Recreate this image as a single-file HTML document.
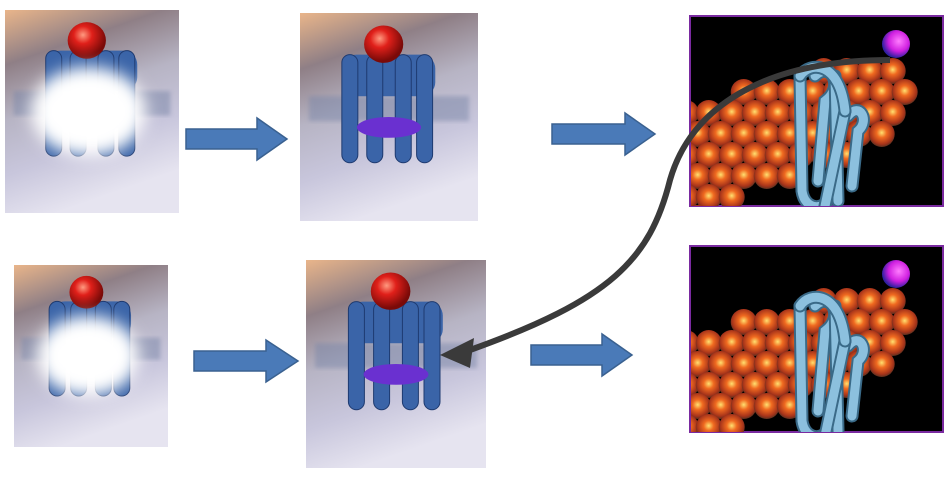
<!DOCTYPE html>
<html><head><meta charset="utf-8"><style>
html,body{margin:0;padding:0;background:#fff;}
body{width:946px;height:480px;overflow:hidden;}
</style></head><body>
<svg id="s" width="946" height="480" xmlns="http://www.w3.org/2000/svg">
<defs>
<linearGradient id="bg" x1="0" y1="0" x2="0.3" y2="1">
<stop offset="0" stop-color="#e9b58a"/><stop offset="0.25" stop-color="#8f7f86"/>
<stop offset="0.5" stop-color="#b7b4c4"/><stop offset="0.75" stop-color="#c8c6dc"/><stop offset="1" stop-color="#e6e4f0"/>
</linearGradient>
<radialGradient id="red" cx="0.4" cy="0.35" r="0.6"><stop offset="0" stop-color="#ff9a80"/><stop offset="0.4" stop-color="#e0201a"/><stop offset="1" stop-color="#7a0a08"/></radialGradient>
<radialGradient id="sph" cx="0.5" cy="0.45" r="0.55"><stop offset="0" stop-color="#ffe070"/><stop offset="0.35" stop-color="#f06a20"/><stop offset="0.8" stop-color="#a8341a"/><stop offset="1" stop-color="#5a3020"/></radialGradient>
<radialGradient id="mag" cx="0.6" cy="0.4" r="0.6"><stop offset="0" stop-color="#ff7cff"/><stop offset="0.6" stop-color="#d020e0"/><stop offset="1" stop-color="#3020a0"/></radialGradient>
<filter id="blur" x="-30%" y="-30%" width="160%" height="160%"><feGaussianBlur stdDeviation="8"/></filter>
<filter id="b2"><feGaussianBlur stdDeviation="2"/></filter>
<clipPath id="c1"><rect x="691" y="17" width="252" height="189"/></clipPath>
<clipPath id="c2"><rect x="691" y="247" width="252" height="185"/></clipPath>
</defs>
<g id="photos"></g>
<g id="right"></g>
<g fill="#4a7ab8" stroke="#3a6190" stroke-width="1.5" id="arrows"></g>
<path d="M890,60 C760,60 690,110 670,180 C650,260 610,300 470,350" fill="none" stroke="#3a3a3a" stroke-width="6"/>
<polygon points="440,355 474,338 470,368" fill="#3a3a3a"/>
</svg>
<script>
const NS="http://www.w3.org/2000/svg";
function el(p,t,a){const e=document.createElementNS(NS,t);for(const k in a)e.setAttribute(k,a[k]);p.appendChild(e);return e;}
const ph=document.getElementById('photos');
function photo(x,y,w,h,blurry){
 const g=el(ph,'g',{});
 el(g,'rect',{x,y,width:w,height:h,fill:'url(#bg)'});
 const cx=x+w*0.5;
 el(g,'rect',{x:x+w*0.05,y:y+h*0.4,width:w*0.9,height:h*0.12,fill:'#7a86a8',opacity:0.5,filter:'url(#b2)'});
 const blue='#3a64a8';
 el(g,'rect',{x:cx-w*0.26,y:y+h*0.2,width:w*0.52,height:h*0.2,rx:14,fill:blue});
 [-0.22,-0.08,0.08,0.2].forEach(o=>el(g,'rect',{x:cx+o*w-8,y:y+h*0.2,width:16,height:h*0.52,rx:8,fill:blue,stroke:'#1e3a70'}));
 el(g,'ellipse',{cx,cy:y+h*0.55,rx:w*0.18,ry:h*0.05,fill:'#6a30d0'});
 el(g,'ellipse',{cx:cx-w*0.03,cy:y+h*0.15,rx:w*0.11,ry:h*0.09,fill:'url(#red)'});
 if(blurry){el(g,'ellipse',{cx:cx-w*0.02,cy:y+h*0.5,rx:w*0.33,ry:h*0.22,fill:'#fff',filter:'url(#blur)'});}
}
photo(5,10,174,203,true);photo(300,13,178,208,false);photo(14,265,154,182,true);photo(306,260,180,208,false);
const rt=document.getElementById('right');
function panel(x,y,w,h,clip){
 el(rt,'rect',{x,y,width:w,height:h,fill:'#000',stroke:'#7a2aa0','stroke-width':2});
 const g=el(rt,'g',{'clip-path':'url(#'+clip+')'});
 const pts=[];
 for(let yy=30;yy<240;yy+=21)for(let xx=670;xx<940;xx+=23){
  const X=xx+((yy/21)%2)*11;
  const t=100-(X-700)*0.23, b=220-(X-700)*0.43;
  if(yy>=t&&yy<=b&&X<912)pts.push([X,yy+y-17]);
 }
 pts.sort((a,b)=>a[1]-b[1]);
 pts.forEach(p=>el(g,'circle',{cx:p[0],cy:p[1],r:13,fill:'url(#sph)'}));
 const tube='#8cc0de';
 const Y=v=>y+v;
 [`M800,${Y(60)} L802,${Y(175)} C805,${Y(195)} 825,${Y(195)} 830,${Y(180)}`,
  `M815,${Y(60)} C830,${Y(45)} 845,${Y(70)} 825,${Y(85)} L818,${Y(165)}`,
  `M835,${Y(60)} L838,${Y(185)}`,
  `M848,${Y(100)} C860,${Y(85)} 870,${Y(105)} 858,${Y(115)} L852,${Y(170)}`,
  `M845,${Y(95)} L825,${Y(190)}`,
  `M800,${Y(60)} C810,${Y(45)} 840,${Y(45)} 845,${Y(95)}`].forEach(d=>{
  el(g,'path',{d,fill:'none',stroke:'#3a6a88','stroke-width':13,'stroke-linecap':'round'});
  el(g,'path',{d,fill:'none',stroke:tube,'stroke-width':9,'stroke-linecap':'round'});});
 el(g,'ellipse',{cx:896,cy:y+28,rx:14,ry:14,fill:'url(#mag)'});
}
panel(690,16,253,190,'c1');panel(690,246,253,186,'c2');
const ar=document.getElementById('arrows');
function arrow(x1,x2,yc,hh,ah){const hx=x2-(ah);
 el(ar,'polygon',{points:`${x1},${yc-hh} ${hx},${yc-hh} ${hx},${yc-hh*2.1} ${x2},${yc} ${hx},${yc+hh*2.1} ${hx},${yc+hh} ${x1},${yc+hh}`});}
arrow(186,287,139,10,30);arrow(552,655,134,10,30);arrow(194,298,361,10,32);arrow(531,632,355,10,30);
</script>
</body></html>
